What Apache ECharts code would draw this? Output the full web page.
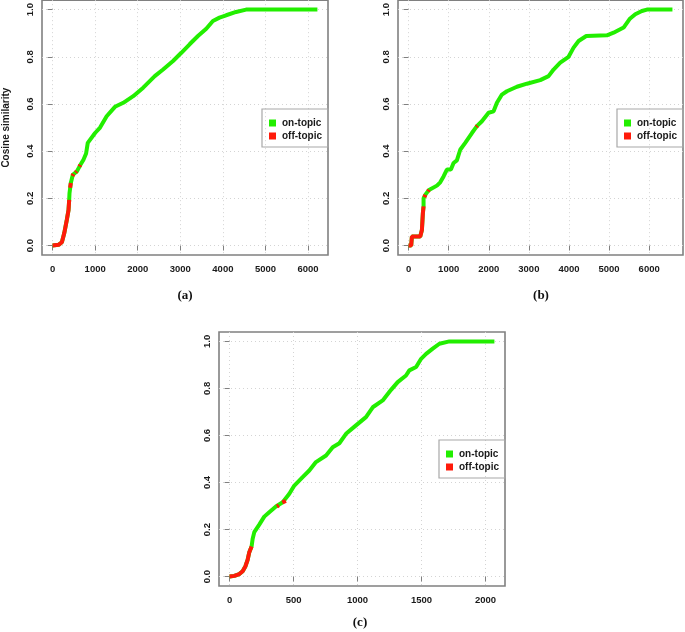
<!DOCTYPE html>
<html>
<head>
<meta charset="utf-8">
<script src="https://cdn.jsdelivr.net/npm/echarts@6/dist/echarts.min.js"></script>
<style>
  html, body { margin: 0; padding: 0; background: #fff; }
  #chart { width: 685px; height: 632px; }
</style>
</head>
<body>
<div id="chart"></div>
<script>
// ---- data ----
// (a) full curve and the off-topic stretches (null = gap)
var curveA = [[0,0],[140,0.003],[218,0.014],[273,0.052],[335,0.11],[374,0.15],[390,0.194],[397,0.222],[428,0.265],[475,0.30],[569,0.314],[647,0.34],[725,0.364],[787,0.39],[826,0.435],[998,0.477],[1115,0.50],[1270,0.548],[1465,0.588],[1660,0.605],[1894,0.633],[2128,0.669],[2400,0.718],[2595,0.746],[2829,0.782],[3024,0.817],[3219,0.853],[3414,0.888],[3609,0.919],[3765,0.952],[3920,0.966],[4076,0.976],[4310,0.99],[4544,1.0],[6220,1.0]];
var offA = [[0,0],[140,0.003],[218,0.014],[273,0.052],[335,0.11],[374,0.15],[390,0.194],null,[412,0.245],[428,0.265],null,[465,0.295],[490,0.303],null,[540,0.31],[565,0.315],null,[630,0.335],[650,0.342]];

// (b)
var curveB = [[0,0],[66,0],[83,0.038],[291,0.038],[333,0.038],[333,0.066],[357,0.137],[374,0.166],[374,0.20],[416,0.215],[499,0.234],[707,0.254],[790,0.268],[873,0.293],[956,0.322],[1056,0.322],[1122,0.35],[1205,0.361],[1288,0.406],[1413,0.435],[1580,0.477],[1704,0.506],[1829,0.527],[1995,0.563],[2120,0.569],[2203,0.605],[2328,0.64],[2452,0.654],[2702,0.673],[2951,0.686],[3284,0.701],[3491,0.718],[3616,0.746],[3782,0.775],[3990,0.80],[4115,0.839],[4240,0.867],[4431,0.888],[4946,0.891],[5112,0.902],[5362,0.924],[5511,0.96],[5653,0.98],[5818,0.994],[5943,1.0],[6580,1.0]];
var offB = [[0,0],[66,0],[83,0.038],[291,0.038],[333,0.038],[333,0.066],[357,0.137],[374,0.166],null,[395,0.205],[420,0.215],null,[485,0.23],[510,0.236],null,[1690,0.503],[1715,0.508]];

// (c)
var curveC = [[0,0],[37,0.003],[76,0.011],[102,0.023],[123,0.043],[141,0.071],[154,0.104],[172,0.128],[180,0.16],[193,0.189],[232,0.221],[271,0.255],[310,0.274],[362,0.298],[415,0.316],[467,0.352],[506,0.387],[571,0.423],[623,0.451],[675,0.487],[754,0.515],[806,0.55],[858,0.567],[910,0.607],[988,0.643],[1066,0.678],[1119,0.72],[1197,0.749],[1262,0.794],[1314,0.827],[1379,0.855],[1405,0.877],[1458,0.891],[1497,0.926],[1536,0.947],[1588,0.969],[1640,0.99],[1718,1.0],[2070,1.0]];
var offC = [[0,0],[37,0.003],[76,0.011],[102,0.023],[123,0.043],[141,0.071],[154,0.104],[172,0.128],null,[370,0.298],[385,0.303],null,[412,0.315],[440,0.322]];

var yTicks = [0, 0.2, 0.4, 0.6, 0.8, 1.0];
var xTicksA = [0, 1000, 2000, 3000, 4000, 5000, 6000];
var xTicksB = [0, 1000, 2000, 3000, 4000, 5000, 6000];
var xTicksC = [0, 500, 1000, 1500, 2000];
var captions = ['(a)', '(b)', '(c)'];

var GREEN = '#22ee00';
var RED = '#ff1a0a';
var FONT = 'Liberation Sans';

// R-style axis range: data range stretched by 4% on each side
function rng(lo, hi) {
  var d = (hi - lo) * 0.04;
  return { min: lo - d, max: hi + d };
}

function xAxisOf(gi, ticks, hi) {
  var r = rng(0, hi);
  return {
    type: 'value', gridIndex: gi, min: r.min, max: r.max,
    axisLine: { show: false },
    axisTick: { show: true, length: 5, customValues: ticks, lineStyle: { color: '#808080', width: 1 } },
    axisLabel: {
      customValues: ticks, margin: 9, color: '#1a1a1a', fontFamily: FONT, fontWeight: 'bold', fontSize: 9.5,
      formatter: function (v) { return String(Math.round(v)); }
    },
    splitLine: { show: true, lineStyle: { color: '#d4d4d4', type: [1, 3], width: 1 } }
  };
}

function yAxisOf(gi, withName) {
  var r = rng(0, 1);
  var ax = {
    type: 'value', gridIndex: gi, min: r.min, max: r.max,
    axisLine: { show: false },
    axisTick: { show: true, length: 5, customValues: yTicks, lineStyle: { color: '#808080', width: 1 } },
    axisLabel: {
      customValues: yTicks, rotate: 90, margin: 7, color: '#1a1a1a',
      fontFamily: FONT, fontWeight: 'bold', fontSize: 9.5,
      formatter: function (v) { return v.toFixed(1); }
    },
    splitLine: { show: true, lineStyle: { color: '#d4d4d4', type: [1, 3], width: 1 } }
  };
  if (withName) {
    ax.name = 'Cosine similarity';
    ax.nameLocation = 'middle';
    ax.nameGap = 31;
    ax.nameTextStyle = { fontFamily: FONT, fontWeight: 'bold', fontSize: 10, color: '#1a1a1a' };
  }
  return ax;
}

function onSeries(i, d) {
  return {
    name: 'on-topic', type: 'line', xAxisIndex: i, yAxisIndex: i, data: d,
    showSymbol: false, color: GREEN, lineStyle: { width: 4, color: GREEN }, z: 3
  };
}
function offSeries(i, d) {
  return {
    name: 'off-topic', type: 'line', xAxisIndex: i, yAxisIndex: i, data: d,
    showSymbol: false, connectNulls: false, color: RED, lineStyle: { width: 4, color: RED }, z: 4
  };
}

function legendAt(left, top) {
  return {
    left: left, top: top, orient: 'vertical', icon: 'rect',
    itemWidth: 7, itemHeight: 7, itemGap: 1,
    padding: [8, 6, 5, 7],
    borderColor: '#a8a8a8', borderWidth: 1.2,
    selectedMode: false,
    textStyle: { fontFamily: FONT, fontWeight: 'bold', fontSize: 10, color: '#1a1a1a', lineHeight: 12, padding: [0, 0, 0, 1] },
    data: ['on-topic', 'off-topic']
  };
}

var gridBox = { show: true, borderColor: '#808080', borderWidth: 1.6, backgroundColor: 'transparent' };

var chart = echarts.init(document.getElementById('chart'));
chart.setOption({
  animation: false,
  backgroundColor: '#fff',
  grid: [
    Object.assign({ left: 42, top: 0, width: 286, height: 255 }, gridBox),
    Object.assign({ left: 398, top: 0, width: 285, height: 255 }, gridBox),
    Object.assign({ left: 219, top: 332, width: 286, height: 254 }, gridBox)
  ],
  xAxis: [xAxisOf(0, xTicksA, 6220), xAxisOf(1, xTicksB, 6580), xAxisOf(2, xTicksC, 2070)],
  yAxis: [yAxisOf(0, true), yAxisOf(1, false), yAxisOf(2, false)],
  legend: [legendAt(262, 109), legendAt(617, 109), legendAt(439, 440)],
  series: [
    onSeries(0, curveA), offSeries(0, offA),
    onSeries(1, curveB), offSeries(1, offB),
    onSeries(2, curveC), offSeries(2, offC)
  ],
  graphic: [
    { type: 'text', x: 185, y: 296, style: { text: captions[0], font: 'bold 13px "Liberation Serif"', fill: '#111', align: 'center', verticalAlign: 'middle' } },
    { type: 'text', x: 541, y: 296, style: { text: captions[1], font: 'bold 13px "Liberation Serif"', fill: '#111', align: 'center', verticalAlign: 'middle' } },
    { type: 'text', x: 360, y: 623, style: { text: captions[2], font: 'bold 13px "Liberation Serif"', fill: '#111', align: 'center', verticalAlign: 'middle' } }
  ]
});
</script>
</body>
</html>
